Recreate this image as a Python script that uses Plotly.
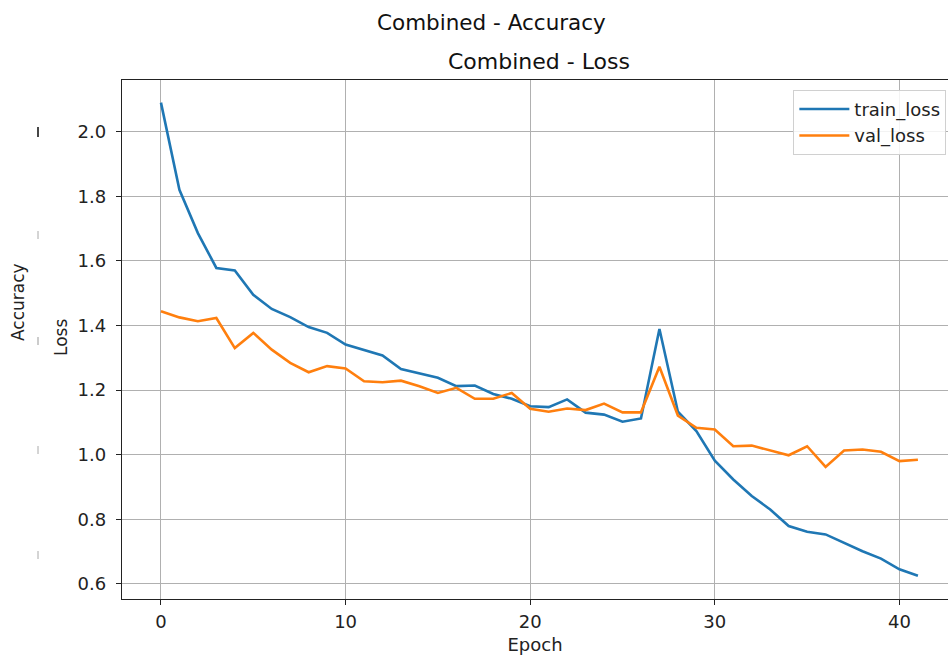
import plotly.graph_objects as go

# ---- data ----
epochs = list(range(42))
train_loss = [2.090, 1.820, 1.686, 1.578, 1.570, 1.495, 1.451, 1.426, 1.395, 1.377,
              1.341, 1.323, 1.307, 1.265, 1.251, 1.238, 1.212, 1.214, 1.188, 1.173,
              1.150, 1.147, 1.171, 1.130, 1.124, 1.102, 1.112, 1.389, 1.133, 1.073,
              0.981, 0.923, 0.872, 0.830, 0.779, 0.761, 0.753, 0.727, 0.701, 0.678,
              0.645, 0.625]
val_loss = [1.444, 1.425, 1.413, 1.423, 1.330, 1.377, 1.325, 1.284, 1.255, 1.274,
            1.267, 1.227, 1.224, 1.229, 1.212, 1.191, 1.207, 1.173, 1.173, 1.191,
            1.142, 1.133, 1.143, 1.138, 1.158, 1.131, 1.131, 1.272, 1.121, 1.083,
            1.078, 1.026, 1.028, 1.014, 0.998, 1.026, 0.962, 1.013, 1.016, 1.009,
            0.980, 0.984]
x_ticks = [0, 10, 20, 30, 40]
y_ticks = [0.6, 0.8, 1.0, 1.2, 1.4, 1.6, 1.8, 2.0]
y_tick_labels = ["0.6", "0.8", "1.0", "1.2", "1.4", "1.6", "1.8", "2.0"]

W, H = 948, 661
L, R, T, B = 122, 0, 80, 62
PW, PH = W - L - R, H - T - B
FONT = "DejaVu Sans"


def px_x(p):
    return (p - L) / PW


def px_y(p):
    return (H - B - p) / PH


fig = go.Figure()
fig.add_trace(go.Scatter(x=epochs, y=train_loss, mode="lines", name="train_loss",
                         line=dict(color="#1f77b4", width=2.6)))
fig.add_trace(go.Scatter(x=epochs, y=val_loss, mode="lines", name="val_loss",
                         line=dict(color="#ff7f0e", width=2.6)))

fig.update_layout(
    width=W, height=H,
    margin=dict(l=L, r=R, t=T, b=B),
    paper_bgcolor="white", plot_bgcolor="white",
    font=dict(family=FONT, size=18, color="#222222"),
    showlegend=True,
    legend=dict(x=0.998, xanchor="right", y=0.981, yanchor="top",
                bgcolor="rgba(255,255,255,0.85)", bordercolor="#d0d0d0", borderwidth=1,
                itemwidth=50,
                font=dict(family=FONT, size=18, color="#222222")),
    xaxis=dict(range=[-2.11, 42.63], tickvals=x_ticks, showgrid=True,
               gridcolor="#b0b0b0", gridwidth=1.3, zeroline=False,
               showline=True, linecolor="#222222", linewidth=1.3, mirror=True,
               ticks="outside", ticklen=5, tickwidth=1.2, tickcolor="#222222",
               ticklabelstandoff=1,
               title=dict(text="Epoch", font=dict(size=18), standoff=7)),
    yaxis=dict(range=[0.553, 2.16], tickvals=y_ticks, ticktext=y_tick_labels,
               showgrid=True, gridcolor="#b0b0b0", gridwidth=1.3, zeroline=False,
               showline=True, linecolor="#222222", linewidth=1.3,
               ticks="outside", ticklen=5, tickwidth=1.2, tickcolor="#222222",
               ticklabelstandoff=6),
)

annotations = [
    dict(text="Combined - Accuracy", xref="paper", yref="paper",
         x=px_x(491), y=px_y(22), xanchor="center", yanchor="middle",
         showarrow=False, font=dict(size=21.5, family=FONT, color="#111111")),
    dict(text="Combined - Loss", xref="paper", yref="paper",
         x=px_x(539), y=px_y(62), xanchor="center", yanchor="middle",
         showarrow=False, font=dict(size=22, family=FONT, color="#111111")),
    dict(text="Loss", xref="paper", yref="paper", textangle=-90,
         x=px_x(61), y=px_y(338), xanchor="center", yanchor="middle",
         showarrow=False, font=dict(size=17, family=FONT, color="#222222")),
    dict(text="Accuracy", xref="paper", yref="paper", textangle=-90,
         x=px_x(18), y=px_y(302), xanchor="center", yanchor="middle",
         showarrow=False, font=dict(size=17, family=FONT, color="#222222")),
]
fig.update_layout(annotations=annotations)

# faint remnants of the hidden accuracy axes' tick labels
ghost_marks = [(132, "#333333", 1.8, 10), (235, "#aaaaaa", 1.0, 8), (341, "#999999", 1.0, 8),
               (450, "#aaaaaa", 1.0, 8), (555, "#aaaaaa", 1.0, 8)]
shapes = []
for gy, col, wd, ln in ghost_marks:
    shapes.append(dict(type="line", xref="paper", yref="paper",
                       x0=px_x(38), x1=px_x(38), y0=px_y(gy - ln / 2), y1=px_y(gy + ln / 2),
                       line=dict(color=col, width=wd)))
fig.update_layout(shapes=shapes)

fig.write_html("out.html")
